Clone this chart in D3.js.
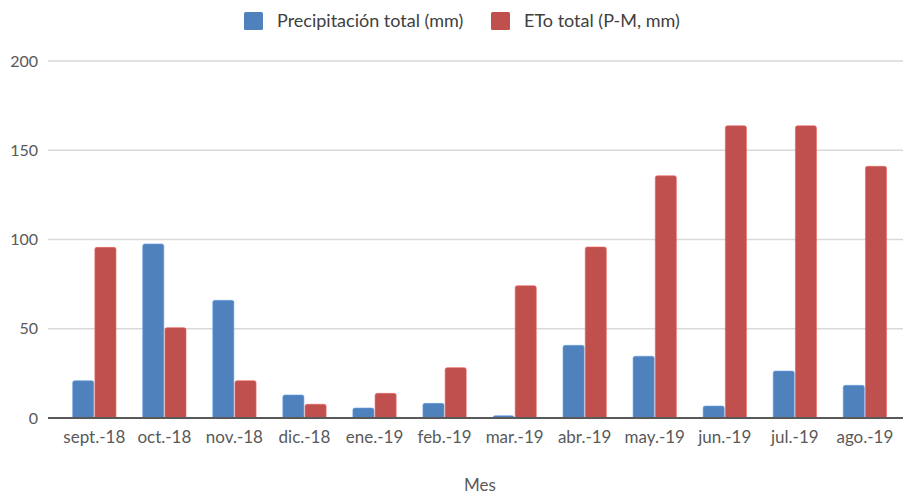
<!DOCTYPE html>
<html>
<head>
<meta charset="utf-8">
<script src="https://cdn.jsdelivr.net/npm/d3@7"></script>
<style>
  body { margin: 0; background: #fff; }
  text { font-family: Lato, "Open Sans", sans-serif; fill: #404040; }
</style>
</head>
<body>
<div id="container"></div>
<script>
var months = ["sept.-18", "oct.-18", "nov.-18", "dic.-18", "ene.-19", "feb.-19",
  "mar.-19", "abr.-19", "may.-19", "jun.-19", "jul.-19", "ago.-19"];
var precip = [20.9, 97.5, 65.9, 12.9, 5.6, 8.2, 1.3, 40.7, 34.6, 6.7, 26.3, 18.3];
var eto = [95.6, 50.6, 20.9, 7.7, 13.8, 28.2, 74.1, 95.8, 135.7, 163.7, 163.7, 141];
var seriesNames = ["Precipitación total (mm)", "ETo total (P-M, mm)"];
var yTicks = [0, 50, 100, 150, 200];

var width = 903;
var height = 496;
var colors = ["#4f81bd", "#c0504d"];

var svg = d3.select("#container")
  .append("svg")
  .attr("width", width)
  .attr("height", height);

var x = d3.scaleBand()
  .domain(months)
  .range([59.3, 899.9])
  .paddingInner(0.382)
  .paddingOuter(0.191);

var xs = d3.scaleBand()
  .domain([0, 1])
  .range([0, x.bandwidth()])
  .paddingInner(0.05);

var y = d3.scaleLinear()
  .domain([0, 200])
  .range([418, 61]);

// grid lines
svg.append("g")
  .selectAll("line")
  .data(yTicks.slice(1))
  .enter()
  .append("line")
  .attr("x1", 48)
  .attr("x2", width)
  .attr("y1", d => y(d))
  .attr("y2", d => y(d))
  .attr("stroke", "#d9d9d9")
  .attr("stroke-width", 1.5);

// y tick labels
svg.append("g")
  .selectAll("text")
  .data(yTicks)
  .enter()
  .append("text")
  .attr("x", 38)
  .attr("y", d => y(d))
  .attr("dy", "0.35em")
  .attr("text-anchor", "end")
  .style("font-size", "16px")
  .style("fill", "#595959")
  .text(d => d);

var rows = months.map((m, i) => ({ month: m, values: [precip[i], eto[i]] }));

function topRounded(x0, y0, w, h, r) {
  r = Math.min(r, h, w / 2);
  return "M" + x0 + "," + (y0 + h) +
    "V" + (y0 + r) +
    "Q" + x0 + "," + y0 + " " + (x0 + r) + "," + y0 +
    "H" + (x0 + w - r) +
    "Q" + (x0 + w) + "," + y0 + " " + (x0 + w) + "," + (y0 + r) +
    "V" + (y0 + h) + "Z";
}

var groups = svg.append("g")
  .selectAll("g")
  .data(rows)
  .enter()
  .append("g")
  .attr("transform", d => "translate(" + x(d.month) + ",0)");

groups.selectAll("path")
  .data(d => d.values.map((v, k) => ({ k: k, v: v })))
  .enter()
  .append("path")
  .attr("d", d => topRounded(xs(d.k), y(d.v), xs.bandwidth(), y(0) - y(d.v), 2))
  .attr("fill", d => colors[d.k])
  .attr("stroke", d => d3.color(colors[d.k]).brighter(0.6))
  .attr("stroke-width", 0.6);

// x axis line
svg.append("line")
  .attr("x1", 48)
  .attr("x2", width)
  .attr("y1", y(0))
  .attr("y2", y(0))
  .attr("stroke", "#595959")
  .attr("stroke-width", 2);

// x tick labels
svg.append("g")
  .selectAll("text")
  .data(months)
  .enter()
  .append("text")
  .attr("x", d => x(d) + x.bandwidth() / 2)
  .attr("y", 443)
  .attr("text-anchor", "middle")
  .style("font-size", "17px")
  .style("fill", "#595959")
  .text(d => d);

// axis title
svg.append("text")
  .attr("x", 480)
  .attr("y", 491)
  .attr("text-anchor", "middle")
  .style("font-size", "17px")
  .style("fill", "#595959")
  .text("Mes");

// legend
var legendX = [244, 491];
var legend = svg.append("g")
  .selectAll("g")
  .data(seriesNames)
  .enter()
  .append("g")
  .attr("transform", (d, i) => "translate(" + legendX[i] + ",12)");

legend.append("rect")
  .attr("width", 19)
  .attr("height", 18)
  .attr("rx", 1.5)
  .attr("fill", (d, i) => colors[i]);

legend.append("text")
  .attr("x", 33)
  .attr("y", 9)
  .attr("dy", "0.35em")
  .style("font-size", "18px")
  .text(d => d);
</script>
</body>
</html>
